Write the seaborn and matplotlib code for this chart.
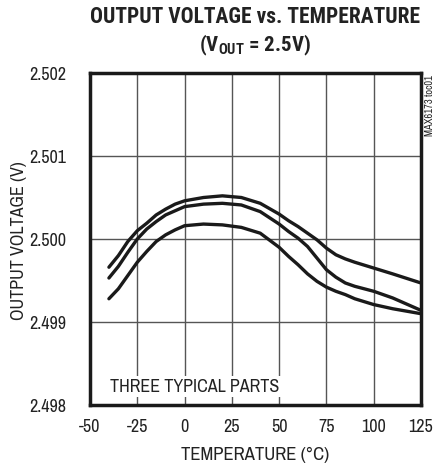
import matplotlib
matplotlib.use("Agg")
import matplotlib.pyplot as plt
import seaborn as sns
import pandas as pd
from matplotlib.font_manager import fontManager

temps = [-40, -35, -30, -25, -20, -15, -10, -5, 0, 10, 20, 30, 40, 50, 55, 60, 65, 70, 75, 80, 85, 90, 100, 110, 125]
part_a = [2.49966, 2.49980, 2.49997, 2.50010, 2.50019, 2.50029, 2.50036, 2.50042, 2.50046, 2.50050,
          2.50052, 2.50050, 2.50043, 2.50030, 2.50022, 2.50015, 2.50007, 2.49999, 2.49989, 2.49981,
          2.49976, 2.49972, 2.49965, 2.49958, 2.49947]
part_b = [2.49953, 2.49967, 2.49984, 2.50000, 2.50012, 2.50021, 2.50029, 2.50034, 2.50039, 2.50042,
          2.50043, 2.50041, 2.50033, 2.50018, 2.50009, 2.50001, 2.49991, 2.49977, 2.49963, 2.49954,
          2.49947, 2.49943, 2.49937, 2.49929, 2.49914]
part_c = [2.49928, 2.49940, 2.49956, 2.49972, 2.49985, 2.49997, 2.50005, 2.50011, 2.50016, 2.50018,
          2.50017, 2.50014, 2.50007, 2.49990, 2.49979, 2.49969, 2.49958, 2.49949, 2.49942, 2.49937,
          2.49933, 2.49928, 2.49921, 2.49916, 2.49910]
x_ticks = [-50, -25, 0, 25, 50, 75, 100, 125]
y_ticks = [2.498, 2.499, 2.500, 2.501, 2.502]

df = pd.concat([
    pd.DataFrame({"temp": temps, "vout": part_a, "part": "A"}),
    pd.DataFrame({"temp": temps, "vout": part_b, "part": "B"}),
    pd.DataFrame({"temp": temps, "vout": part_c, "part": "C"}),
])

sns.set_style("white")
entries = fontManager.ttflist
names = {f.name for f in entries}
reg_cands = ["Liberation Sans Narrow", "Archivo Narrow", "Roboto Condensed", "PT Sans Narrow",
             "Asap Condensed", "Liberation Sans"]
bold_cands = ["Liberation Sans Narrow", "Roboto Condensed", "PT Sans Narrow", "Archivo Narrow",
              "Asap Condensed", "Barlow Semi Condensed", "Liberation Sans"]
reg = [f for f in reg_cands if f in names][0]
def has_bold(n):
    return any(f.name == n and f.weight in (700, "bold") for f in entries)
bold = next((f for f in bold_cands if f in names and has_bold(f)), reg)
plt.rcParams["font.family"] = [reg, "DejaVu Sans"]
plt.rcParams["mathtext.default"] = "regular"
plt.rcParams["mathtext.fontset"] = "custom"
plt.rcParams["mathtext.rm"] = bold + ":bold"
plt.rcParams["mathtext.it"] = bold + ":bold"
plt.rcParams["mathtext.bf"] = bold + ":bold"

fig = plt.figure(figsize=(4.35, 4.66), dpi=100)
ax = fig.add_axes([90/435, 1-405/466, 331/435, 332/466])

sns.lineplot(data=df, x="temp", y="vout", hue="part", palette=["#1a1a1a"]*3,
             linewidth=2.4, legend=False, ax=ax, sort=False)

ax.set_xlim(-50, 125)
ax.set_ylim(2.498, 2.502)
ax.set_xticks(x_ticks)
ax.set_yticks(y_ticks)
ax.set_xticklabels([str(t) for t in x_ticks])
ax.set_yticklabels([f"{v:.3f}" for v in y_ticks])
ax.tick_params(axis="both", length=0, labelsize=13, colors="#222222")
ax.tick_params(axis="y", pad=17)
ax.tick_params(axis="x", pad=10)
ax.grid(True, color="#555555", linewidth=1.0)
for s in ax.spines.values():
    s.set_linewidth(2.5)
    s.set_color("#1a1a1a")
ax.set_xlabel("")
ax.set_ylabel("")

fig.text(255/435, 1-455/466, "TEMPERATURE (°C)", ha="center", va="center", fontsize=13.5, color="#222222")
fig.text(19/435, 1-241/466, "OUTPUT VOLTAGE (V)", ha="center", va="center", rotation=90, fontsize=13, color="#222222")
fig.text(255/435, 1-17/466, "OUTPUT VOLTAGE vs. TEMPERATURE", ha="center", va="center",
         fontsize=15.5, fontweight="bold", family=[bold, "DejaVu Sans"], color="#222222")
fig.text(255/435, 1-45/466, "(V$_{OUT}$ = 2.5V)", ha="center", va="center",
         fontsize=15, fontweight="bold", family=[bold, "DejaVu Sans"], color="#222222")
fig.text(430/435, 1-75/466, "MAX6173 toc01", ha="center", va="top", rotation=90, fontsize=7.5, color="#222222")
ax.text(-39.5, 2.49822, "THREE TYPICAL PARTS", ha="left", va="center", fontsize=13, color="#222222",
        bbox=dict(facecolor="white", edgecolor="none", pad=2))

fig.savefig("out.png", dpi=100)
